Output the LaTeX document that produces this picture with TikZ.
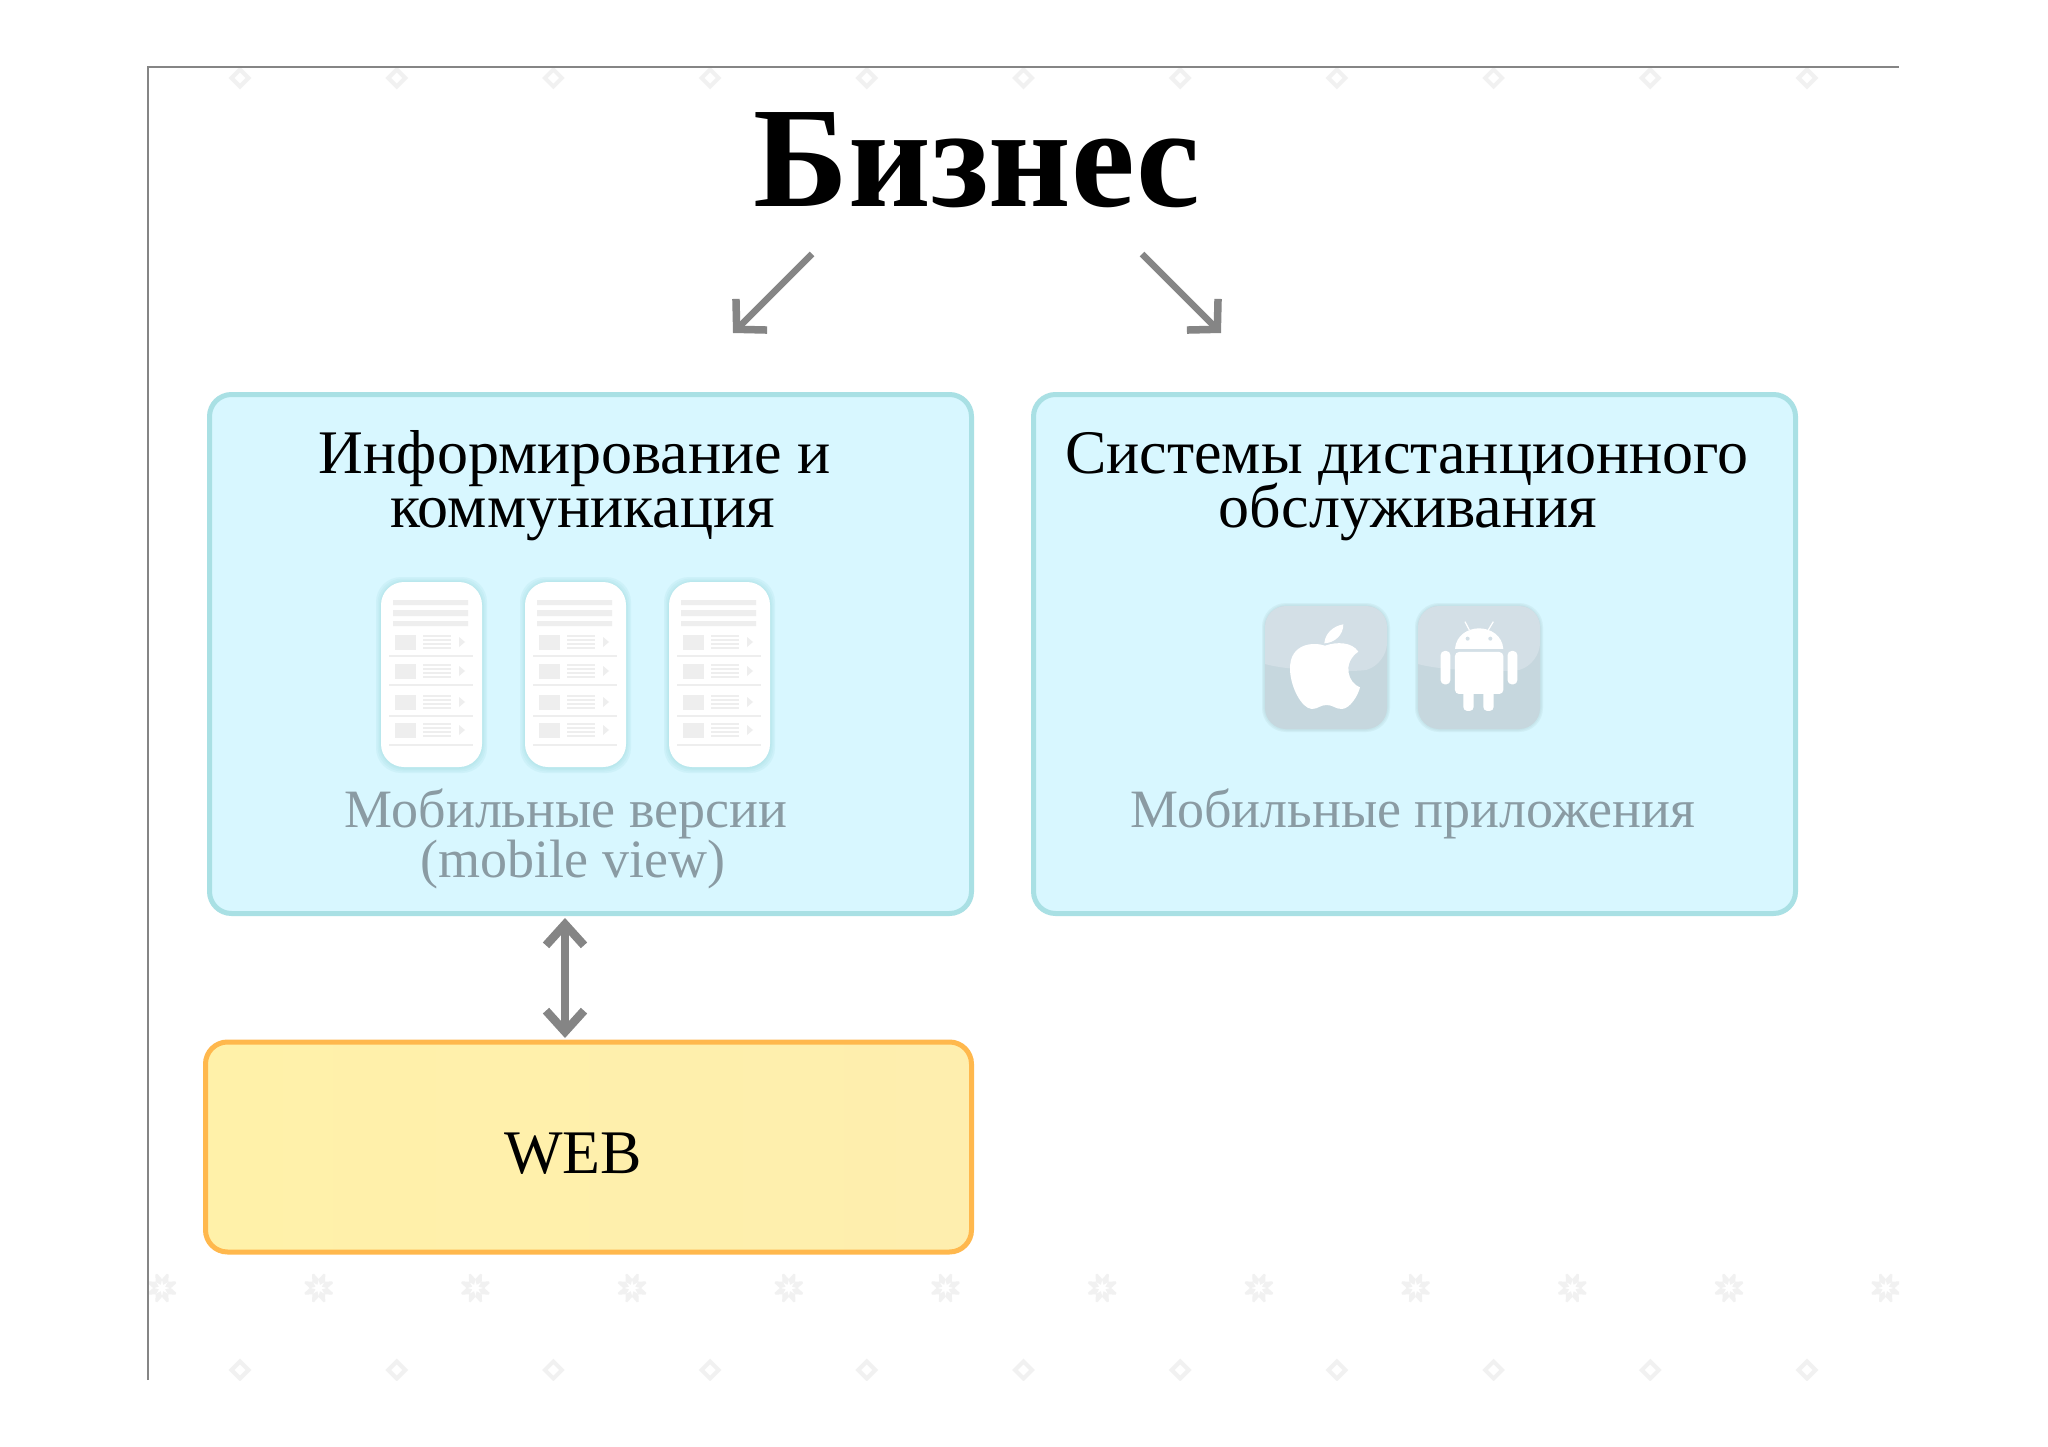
\documentclass[tikz,border=0pt]{standalone}
\usepackage{fontspec}
\setmainfont{Liberation Serif}
\usetikzlibrary{arrows.meta}
\definecolor{cyanfill}{HTML}{D8F7FF}
\definecolor{cyanedge}{HTML}{A9E0E4}
\definecolor{yelfill}{HTML}{FFF1A9}
\definecolor{yelfillb}{HTML}{FEEEAE}
\definecolor{yeledge}{HTML}{FFB84D}
\definecolor{arrowgray}{HTML}{858585}
\definecolor{labelgray}{HTML}{8A9BA3}
\definecolor{patgray}{HTML}{F1F1F1}
\definecolor{phonebar}{HTML}{EEEEEE}
\definecolor{iconlight}{HTML}{D3DFE6}
\definecolor{icondark}{HTML}{C6D7DE}
\definecolor{iconedge}{HTML}{BBDADF}
\tikzset{
  panel/.style={draw=cyanedge,fill=cyanfill,line width=5pt,rounded corners=22pt,inner sep=0pt},
  webpanel/.style={draw=yeledge,line width=5pt,rounded corners=22pt,inner sep=0pt,left color=yelfill,right color=yelfillb},
  heading/.style={anchor=base,inner sep=0pt,font=\fontsize{62}{62}\selectfont},
  grayline/.style={anchor=base,inner sep=0pt,text=labelgray,font=\fontsize{54}{54}\selectfont},
  biglink/.style={draw=arrowgray,line width=6.5pt,-{Straight Barb[length=21pt,width=44pt,line width=7.5pt]}},
  duallink/.style={draw=arrowgray,line width=7.5pt,{Straight Barb[length=21pt,width=38pt,line width=8.5pt]}-{Straight Barb[length=21pt,width=38pt,line width=8.5pt]}},
}
\newcommand{\phonecard}[1]{%
  \begin{scope}[shift={(#1)}]
    \foreach \g in {5,3.5,2,1}{
      \fill[cyanedge,opacity=.22,rounded corners=25pt] (-\g,-\g) rectangle (101+\g,185+\g+1);
    }
    \fill[white,rounded corners=23pt] (0,0) rectangle (101,185);
    \fill[phonebar] (12,18) rectangle (87,23) (12,28) rectangle (87,34) (12,39) rectangle (87,44);
    \foreach \ry in {60,89,120,148}{
      \fill[phonebar] (14,\ry-7.5) rectangle (35,\ry+7.5);
      \fill[phonebar] (78,\ry-5) -- (84,\ry) -- (78,\ry+5) -- cycle;
      \foreach \ly in {-6,-2,2,6}{\fill[phonebar] (42,\ry+\ly-.7) rectangle (70,\ry+\ly+.7);}
    }
    \foreach \dy in {74,103,134,163}{\fill[phonebar] (8,\dy-.6) rectangle (92,\dy+.6);}
  \end{scope}}
\newcommand{\icontile}[1]{%
  \begin{scope}[shift={(#1)}]
    \foreach \g in {3,2,1}{
      \fill[iconedge,opacity=.3,rounded corners=24pt] (2-\g,2-\g) rectangle (124+\g,125+\g);
    }
    \fill[icondark,rounded corners=21pt] (2,2) rectangle (124,125);
    \fill[iconlight,rounded corners=21pt] (2,60) -- (2,2) -- (124,2) -- (124,60) [sharp corners] .. controls (96,68) and (30,68) .. (2,60) -- cycle;
  \end{scope}}
\begin{document}
\begin{tikzpicture}[x=1pt,y=-1pt]
\useasboundingbox (0,0) rectangle (2048,1447);
\fill[white] (0,0) rectangle (2048,1447);
% wallpaper
\begin{scope}
  \clip (149,68) rectangle (1899,1380);
  \foreach \n in {0,...,11}{
    \begin{scope}[shift={(162+156.7*\n,1288)}]
      \foreach \a in {22.5,67.5,...,337.5}{
        \fill[patgray,rotate=\a] (3.5,0) -- (8,-3.5) -- (15,-1) -- (15,1) -- (8,3.5) -- cycle;
      }
    \end{scope}
  }
  \foreach \n in {0,...,10}{
    \foreach \py in {78,1370}{
      \draw[patgray,line width=4pt] (240+156.7*\n-8.5,\py) -- (240+156.7*\n,\py-8.5) -- (240+156.7*\n+8.5,\py) -- (240+156.7*\n,\py+8.5) -- cycle;
    }
  }
\end{scope}
% frame
\draw[arrowgray,line width=1.3pt] (148,1380) -- (148,67) -- (1899,67);
% title
\node[anchor=base,inner sep=0pt,font=\fontsize{143.5}{144}\selectfont\bfseries] (title) at (977,207) {Бизнес};
\coordinate (ls) at (812,254);
\coordinate (le) at (733,333);
\coordinate (rs) at (1142,254);
\coordinate (re) at (1221,333);
\draw[biglink] (ls) -- (le);
\draw[biglink] (rs) -- (re);
% panels
\node[panel,minimum width=762pt,minimum height=519pt] (info) at (590.5,654) {};
\node[panel,minimum width=762pt,minimum height=519pt] (remote) at (1414.5,654) {};
\node[webpanel,minimum width=766pt,minimum height=210pt] (web) at (588.5,1147) {};
\coordinate (dt) at (565,918);
\coordinate (db) at (565,1038);
\draw[duallink] (dt) -- (db);
% texts
\node[heading] (t1) at (575,473.5) {Информирование и};
\node[heading] (t2) at (583,527.5) {коммуникация};
\node[heading] (t3) at (1407,473.5) {Системы дистанционного};
\node[heading] (t4) at (1408,527.5) {обслуживания};
\node[grayline] (g1) at (566,827) {Мобильные версии};
\node[grayline] (g2) at (573,877) {(mobile view)};
\node[grayline] (g3) at (1413,827) {Мобильные приложения};
\node[heading] (w) at (573,1173) {WEB};
% phones
\phonecard{381,582}
\phonecard{525,582}
\phonecard{669,582}
% icons
\icontile{1263,604}
\icontile{1416,604}
\begin{scope}[shift={(1230,580)},x=0.3333pt,y=-0.3333pt]
  \fill[white] (285,197) .. controls (250,185) and (180,190) .. (180,265)
     .. controls (180,320) and (215,385) .. (245,387)
     .. controls (265,387) and (270,375) .. (290,375)
     .. controls (310,375) and (315,387) .. (335,387)
     .. controls (360,387) and (385,345) .. (390,322)
     .. controls (355,310) and (335,250) .. (385,215)
     .. controls (365,185) and (320,185) .. (285,197) -- cycle;
  \fill[white] (283,190) .. controls (285,160) and (310,138) .. (340,133) .. controls (340,165) and (315,188) .. (283,190) -- cycle;
  % android
  \fill[white] (675,207) .. controls (678,165) and (715,145) .. (747,145) .. controls (780,145) and (817,165) .. (820,207) -- cycle;
  \fill[white,rounded corners=4pt] (675,216) rectangle (820,342);
  \fill[white,rounded corners=4pt] (632,213) rectangle (661,313);
  \fill[white,rounded corners=4pt] (833,213) rectangle (862,313);
  \fill[white,rounded corners=4pt] (700,330) rectangle (731,393);
  \fill[white,rounded corners=4pt] (760,330) rectangle (791,393);
  \fill[iconlight] (713,176) circle[radius=6] (781,176) circle[radius=6];
  \draw[white,line width=1.2pt] (718,150) -- (705,125) (775,150) -- (790,125);
\end{scope}
\end{tikzpicture}
\end{document}
